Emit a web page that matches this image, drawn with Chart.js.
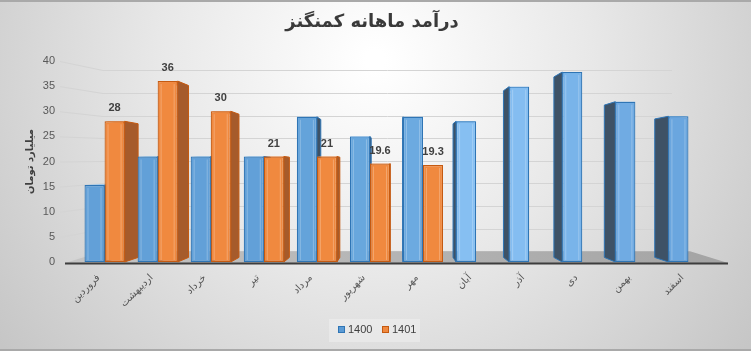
<!DOCTYPE html>
<html><head><meta charset="utf-8">
<script src="https://cdn.jsdelivr.net/npm/chart.js@4.4.1/dist/chart.umd.min.js"></script>
<style>html,body{margin:0;padding:0;background:#d8d8d8;overflow:hidden}#wrap{width:751px;height:351px;position:relative}</style>
</head><body><div id="wrap"><canvas id="c" width="751" height="351"></canvas></div>
<script>
// ---- data ----
const months = ['فروردین','اردیبهشت','خرداد','تیر','مرداد','شهریور','مهر','آبان','آذر','دی','بهمن','اسفند'];
const series1400 = [15.3, 21, 21, 21, 28.9, 25, 28.9, 28, 34.9, 37.8, 31.9, 29];
const series1401 = [28, 36, 30, 21, 21, 19.6, 19.3, null, null, null, null, null];
const seriesNames = ['1400', '1401'];
const yMin = 0, yMax = 40, yStep = 5;
const chartTitle = 'درآمد ماهانه کمنگنز';
const yTitle = 'میلیارد تومان';

// ---- styles ----
const blueFronts = ['#62a0d8','#62a0d8','#62a0d8','#62a0d8','#64a3da','#68a7dd','#6caae0','#86bff2','#84bdf1','#79b4ea','#70abe3','#6aa6df'];
const styles = [
  {front: blueFronts, border:'#2f75b5', side:'#3e5266', top:'#8fc3ef'},
  {front: '#f0893f', border:'#c55a11', side:'#a65b2b', top:'#f5a870'}
];
const V = {x:395, y:170}, FB = 0.05;      // bar depth perspective
const VW_Y = 155, FW = 0.1;               // wall depth perspective

const FONT_FA = "'DejaVu Sans', 'Noto Sans', sans-serif";
const FONT_NUM = "'Liberation Sans', Arial, sans-serif";

const back = (x, y) => [x + (V.x - x) * FB, y + (V.y - y) * FB];
const wallY = y => y + (VW_Y - y) * FW;

const scenePlugin = {
  id: 'scene',
  afterLayout(chart) {
    const t = chart.titleBlock;
    if (t) { t.left = 0; t.right = 744; }
  },
  beforeDraw(chart) {
    const ctx = chart.ctx, W = chart.width, H = chart.height;
    ctx.save();
    const g = ctx.createRadialGradient(375, 60, 10, 375, 60, 470);
    g.addColorStop(0, '#ffffff');
    g.addColorStop(0.45, '#e8e8e8');
    g.addColorStop(1, '#c6c6c6');
    ctx.fillStyle = g;
    ctx.fillRect(0, 0, W, H);
    ctx.fillStyle = '#a9a9a9';
    ctx.fillRect(0, 0, W, 2);
    ctx.fillRect(0, H - 2, W, 2);
    ctx.restore();
  },
  beforeDatasetsDraw(chart) {
    const ctx = chart.ctx, ys = chart.scales.y, a = chart.chartArea;
    ctx.save();
    // back wall + left wall gridlines
    ctx.strokeStyle = '#d4d4d4';
    ctx.lineWidth = 1;
    ys.ticks.forEach(t => {
      const y = ys.getPixelForValue(t.value);
      const yb = wallY(y);
      ctx.beginPath();
      ctx.moveTo(a.left - 18, y + 0.5);
      ctx.lineTo(a.left + 25, Math.round(yb) + 0.5);
      ctx.lineTo(a.right - 43, Math.round(yb) + 0.5);
      ctx.stroke();
    });
    // floor
    const y0 = ys.getPixelForValue(0);
    const yb0 = wallY(y0);
    const fg = ctx.createLinearGradient(a.left, 0, a.right, 0);
    fg.addColorStop(0, '#c4c4c4');
    fg.addColorStop(1, '#a4a4a4');
    ctx.fillStyle = fg;
    ctx.beginPath();
    ctx.moveTo(a.left - 13, y0 + 1);
    ctx.lineTo(a.right + 13, y0 + 1);
    ctx.lineTo(a.right - 25, yb0);
    ctx.lineTo(a.left + 25, yb0);
    ctx.closePath();
    ctx.fill();
    ctx.strokeStyle = '#3d3d3d';
    ctx.lineWidth = 2;
    ctx.beginPath();
    ctx.moveTo(a.left - 13, y0 + 1.5);
    ctx.lineTo(a.right + 13, y0 + 1.5);
    ctx.stroke();
    // 3D side / top faces of bars
    chart.getSortedVisibleDatasetMetas().forEach((meta) => {
      const st = styles[meta.index];
      meta.data.forEach((el, i) => {
        const v = chart.data.datasets[meta.index].data[i];
        if (v === null || v === undefined) return;
        const {x, y, base, width} = el.getProps(['x','y','base','width'], true);
        const l = x - width / 2, r = x + width / 2;
        const tl = back(l, y), tr = back(r, y);
        ctx.fillStyle = st.top;
        ctx.beginPath();
        ctx.moveTo(l, y); ctx.lineTo(r, y); ctx.lineTo(tr[0], tr[1]); ctx.lineTo(tl[0], tl[1]);
        ctx.closePath(); ctx.fill();
        let ex = null;
        if (V.x > r) ex = r; else if (V.x < l) ex = l;
        if (ex !== null) {
          const bt = back(ex, y), bb = back(ex, base);
          ctx.fillStyle = st.side;
          ctx.strokeStyle = st.border;
          ctx.lineWidth = 1;
          ctx.beginPath();
          ctx.moveTo(ex, y); ctx.lineTo(bt[0], bt[1]); ctx.lineTo(bb[0], bb[1]); ctx.lineTo(ex, base);
          ctx.closePath(); ctx.fill(); ctx.stroke();
        }
      });
    });
    ctx.restore();
  },
  afterDatasetsDraw(chart) {
    const ctx = chart.ctx;
    ctx.save();
    chart.getSortedVisibleDatasetMetas().forEach((meta) => {
      meta.data.forEach((el, i) => {
        const v = chart.data.datasets[meta.index].data[i];
        if (v === null || v === undefined) return;
        const {x, y, base, width} = el.getProps(['x','y','base','width'], true);
        ctx.strokeStyle = 'rgba(255,255,255,0.25)';
        ctx.lineWidth = 1;
        ctx.beginPath();
        ctx.moveTo(x - width / 2 + 3.5, y + 3); ctx.lineTo(x - width / 2 + 3.5, base - 2);
        ctx.moveTo(x + width / 2 - 3.5, y + 3); ctx.lineTo(x + width / 2 - 3.5, base - 2);
        ctx.stroke();
      });
    });
    const meta = chart.getDatasetMeta(1);
    ctx.fillStyle = '#404040';
    ctx.font = 'bold 11px ' + FONT_NUM;
    ctx.textAlign = 'center';
    ctx.textBaseline = 'middle';
    meta.data.forEach((el, i) => {
      const v = series1401[i];
      if (v === null) return;
      ctx.fillText(String(v), el.x, el.y - 13);
    });
    ctx.restore();
  },
  afterDraw(chart) {
    const ctx = chart.ctx;
    ctx.save();
    ctx.fillStyle = 'rgba(255,255,255,0.28)';
    ctx.fillRect(329, 319, 91, 23);
    const items = [
      {x: 338, fill: '#5b9bd5', stroke: '#2f75b5', text: seriesNames[0]},
      {x: 382, fill: '#f0893f', stroke: '#c55a11', text: seriesNames[1]}
    ];
    ctx.font = '11px ' + FONT_NUM;
    ctx.textBaseline = 'middle';
    ctx.textAlign = 'left';
    items.forEach(it => {
      ctx.fillStyle = it.fill;
      ctx.fillRect(it.x, 326, 7, 7);
      ctx.strokeStyle = it.stroke;
      ctx.lineWidth = 1;
      ctx.strokeRect(it.x + 0.5, 326.5, 6, 6);
      ctx.fillStyle = '#404040';
      ctx.fillText(it.text, it.x + 10, 330);
    });
    ctx.restore();
  }
};

new Chart(document.getElementById('c'), {
  type: 'bar',
  data: {
    labels: months,
    datasets: [
      {label: seriesNames[0], data: series1400, backgroundColor: styles[0].front, borderColor: styles[0].border, borderWidth: 1.2, borderSkipped: false},
      {label: seriesNames[1], data: series1401, backgroundColor: styles[1].front, borderColor: styles[1].border, borderWidth: 1.2, borderSkipped: false}
    ]
  },
  options: {
    responsive: false,
    devicePixelRatio: 1,
    animation: false,
    layout: {padding: {top: 0, left: 0, right: 36, bottom: 0}},
    datasets: {bar: {categoryPercentage: 0.755, barPercentage: 1}},
    plugins: {
      legend: {display: false},
      tooltip: {enabled: false},
      title: {
        display: true, text: chartTitle, color: '#3a3a3a',
        font: {family: FONT_FA, size: 18, weight: 'bold'},
        padding: {top: 12, bottom: 27.4}
      }
    },
    scales: {
      x: {
        grid: {display: false, drawTicks: false},
        border: {display: false},
        ticks: {color: '#595959', font: {family: FONT_FA, size: 10}, minRotation: 45, maxRotation: 45, autoSkip: false, padding: 10, labelOffset: -6},
        afterFit: s => { s.height = 89; }
      },
      y: {
        min: yMin, max: yMax,
        grid: {display: false, drawTicks: false},
        border: {display: false},
        ticks: {stepSize: yStep, color: '#595959', font: {family: FONT_NUM, size: 11}, padding: 23},
        title: {display: true, text: yTitle, color: '#404040', font: {family: FONT_FA, size: 10, weight: 'bold'}, padding: {top: 24, bottom: 0}},
        afterFit: s => { s.width = 78; }
      }
    }
  },
  plugins: [scenePlugin]
});
</script></body></html>
